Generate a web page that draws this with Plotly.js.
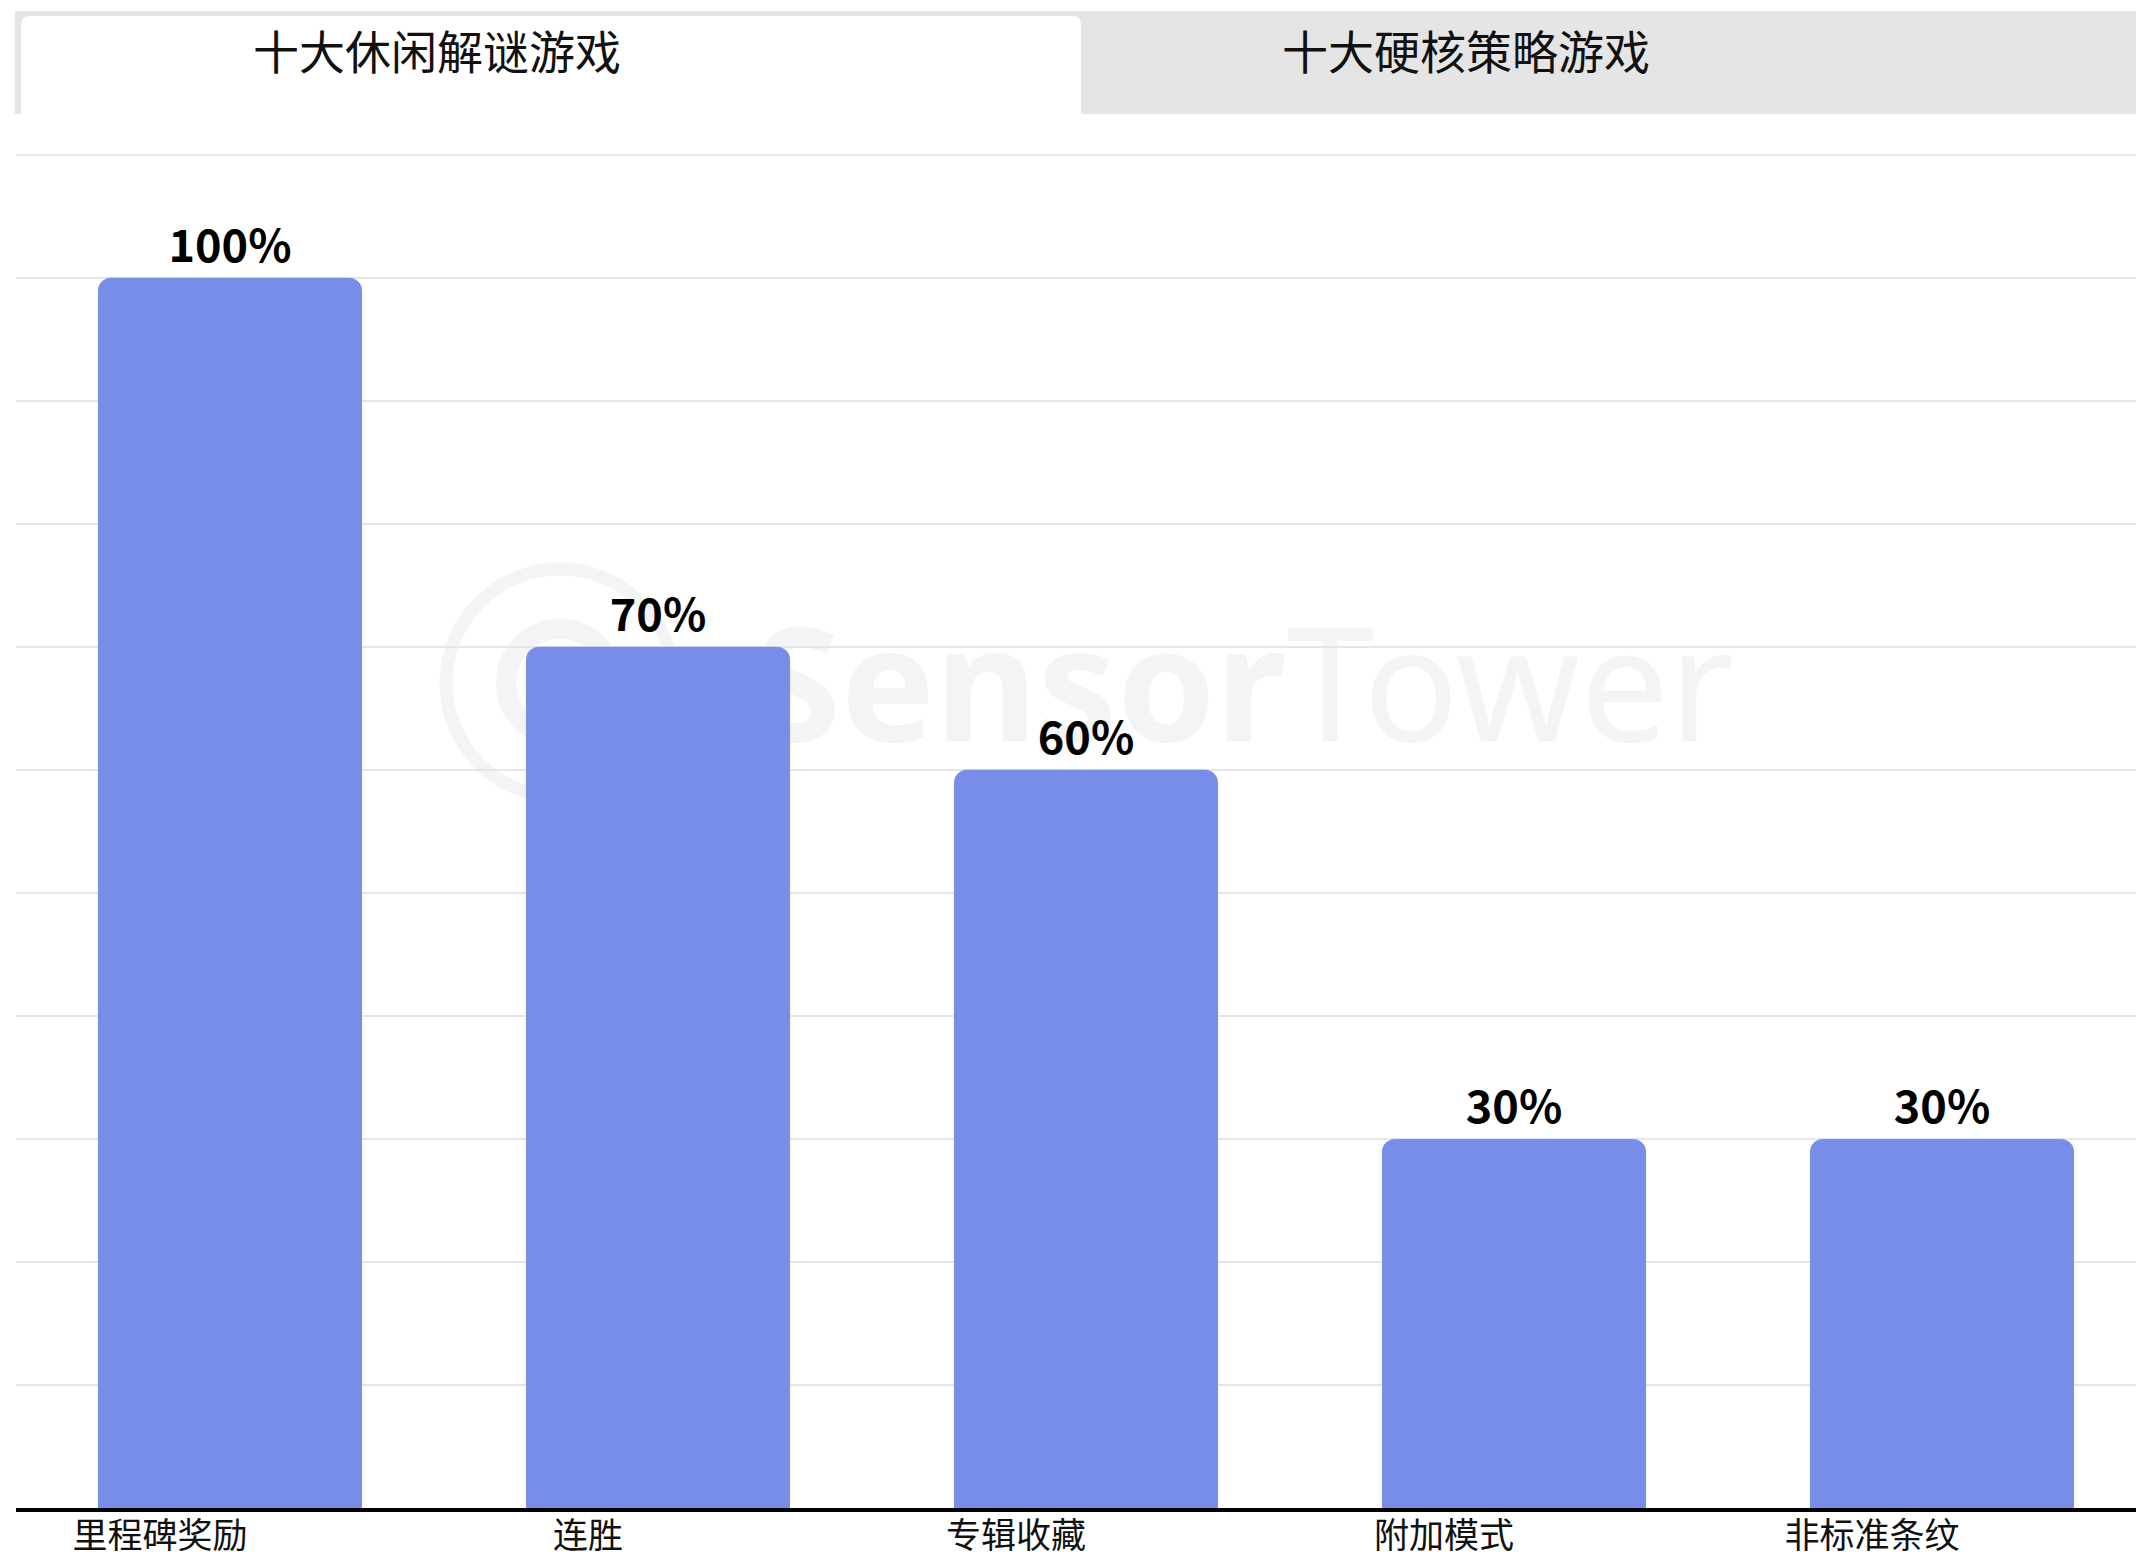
<!DOCTYPE html>
<html>
<head>
<meta charset="utf-8">
<script src="https://cdn.plot.ly/plotly-3.0.1.min.js"></script>
<style>html,body{margin:0;padding:0;background:#fff;}#chart{width:2136px;height:1552px;}</style>
</head>
<body>
<div id="chart"></div>
<script>
// ---- data ----
const categories = ['里程碑奖励', '连胜', '专辑收藏', '附加模式', '非标准条纹'];
const shares = [100, 70, 60, 30, 30];
const tabLabels = ['十大休闲解谜游戏', '十大硬核策略游戏'];
const watermarkBold = 'Sensor';
const watermarkLight = 'Tower';

// ---- layout geometry (pixels) ----
const W = 2136, H = 1552, ML = 16, MR = 0, MT = 151, MB = 44;
const PW = W - ML - MR, PH = H - MT - MB;
const fx = px => (px - ML) / PW;
const fy = py => (H - MB - py) / PH;

const tabGray = '#e5e5e5';
const wmColor = '#f4f4f4';

function roundTopRect(x0, y0, x1, y1, r) {
  return 'M ' + fx(x0) + ',' + fy(y1) +
    ' L ' + fx(x0) + ',' + fy(y0 + r) +
    ' Q ' + fx(x0) + ',' + fy(y0) + ' ' + fx(x0 + r) + ',' + fy(y0) +
    ' L ' + fx(x1 - r) + ',' + fy(y0) +
    ' Q ' + fx(x1) + ',' + fy(y0) + ' ' + fx(x1) + ',' + fy(y0 + r) +
    ' L ' + fx(x1) + ',' + fy(y1) + ' Z';
}

const shapes = [
  // tab bar background
  {type: 'rect', xref: 'paper', yref: 'paper', x0: fx(15), x1: fx(2136), y0: fy(114), y1: fy(11),
   fillcolor: tabGray, line: {width: 0}, layer: 'above'},
  // active tab
  {type: 'path', xref: 'paper', yref: 'paper', path: roundTopRect(21, 16, 1081, 114, 9),
   fillcolor: '#ffffff', line: {width: 0}, layer: 'above'},
  // watermark logo rings
  {type: 'circle', xref: 'paper', yref: 'paper', x0: fx(560 - 114), x1: fx(560 + 114), y0: fy(683 + 114), y1: fy(683 - 114),
   line: {color: wmColor, width: 13}, fillcolor: 'rgba(0,0,0,0)', layer: 'below'},
  {type: 'circle', xref: 'paper', yref: 'paper', x0: fx(560 - 54), x1: fx(560 + 54), y0: fy(683 + 54), y1: fy(683 - 54),
   line: {color: wmColor, width: 20}, fillcolor: 'rgba(0,0,0,0)', layer: 'below'},
  // watermark text
  {type: 'rect', xref: 'paper', yref: 'paper', x0: fx(740), x1: fx(1748), y0: fy(780), y1: fy(600),
   line: {width: 0}, fillcolor: 'rgba(0,0,0,0)', layer: 'below',
   label: {text: '<b>' + watermarkBold + '</b>' + watermarkLight, textposition: 'middle center',
           font: {family: 'Noto Sans, sans-serif', size: 158, color: wmColor}}}
];

const annotations = [
  {xref: 'paper', yref: 'paper', x: fx(437), y: fy(49), text: tabLabels[0], showarrow: false,
   xanchor: 'center', yanchor: 'middle', font: {family: 'Noto Sans CJK SC', size: 46, color: '#111'}},
  {xref: 'paper', yref: 'paper', x: fx(1466), y: fy(49), text: tabLabels[1], showarrow: false,
   xanchor: 'center', yanchor: 'middle', font: {family: 'Noto Sans CJK SC', size: 46, color: '#111'}}
];

const trace = {
  type: 'bar',
  x: categories,
  y: shares,
  marker: {color: '#788DEA', cornerradius: 13},
  width: 0.617,
  text: shares.map(v => v + '%'),
  textposition: 'outside',
  cliponaxis: false,
  textfont: {family: 'Noto Sans CJK SC', size: 45, color: '#000', weight: 700},
  hoverinfo: 'skip'
};

const layout = {
  width: W, height: H,
  margin: {l: ML, r: MR, t: MT, b: MB, pad: 0},
  paper_bgcolor: '#ffffff',
  plot_bgcolor: 'rgba(0,0,0,0)',
  showlegend: false,
  xaxis: {
    type: 'category',
    range: [-0.5, -0.5 + PW / 428],
    showgrid: false, zeroline: false,
    showline: true, linecolor: '#000', linewidth: 4,
    ticks: '',
    ticklabelshift: -70,
    ticklabelstandoff: -6,
    tickfont: {family: 'Noto Sans CJK SC', size: 35, color: '#111'},
    fixedrange: true
  },
  yaxis: {
    range: [0, 110.3], dtick: 10, tick0: 0,
    showgrid: true, gridcolor: '#e6e6e6', gridwidth: 2,
    zeroline: false, showticklabels: false, ticks: '',
    fixedrange: true
  },
  shapes: shapes,
  annotations: annotations
};

Plotly.newPlot('chart', [trace], layout, {staticPlot: true, displayModeBar: false});
</script>
</body>
</html>
